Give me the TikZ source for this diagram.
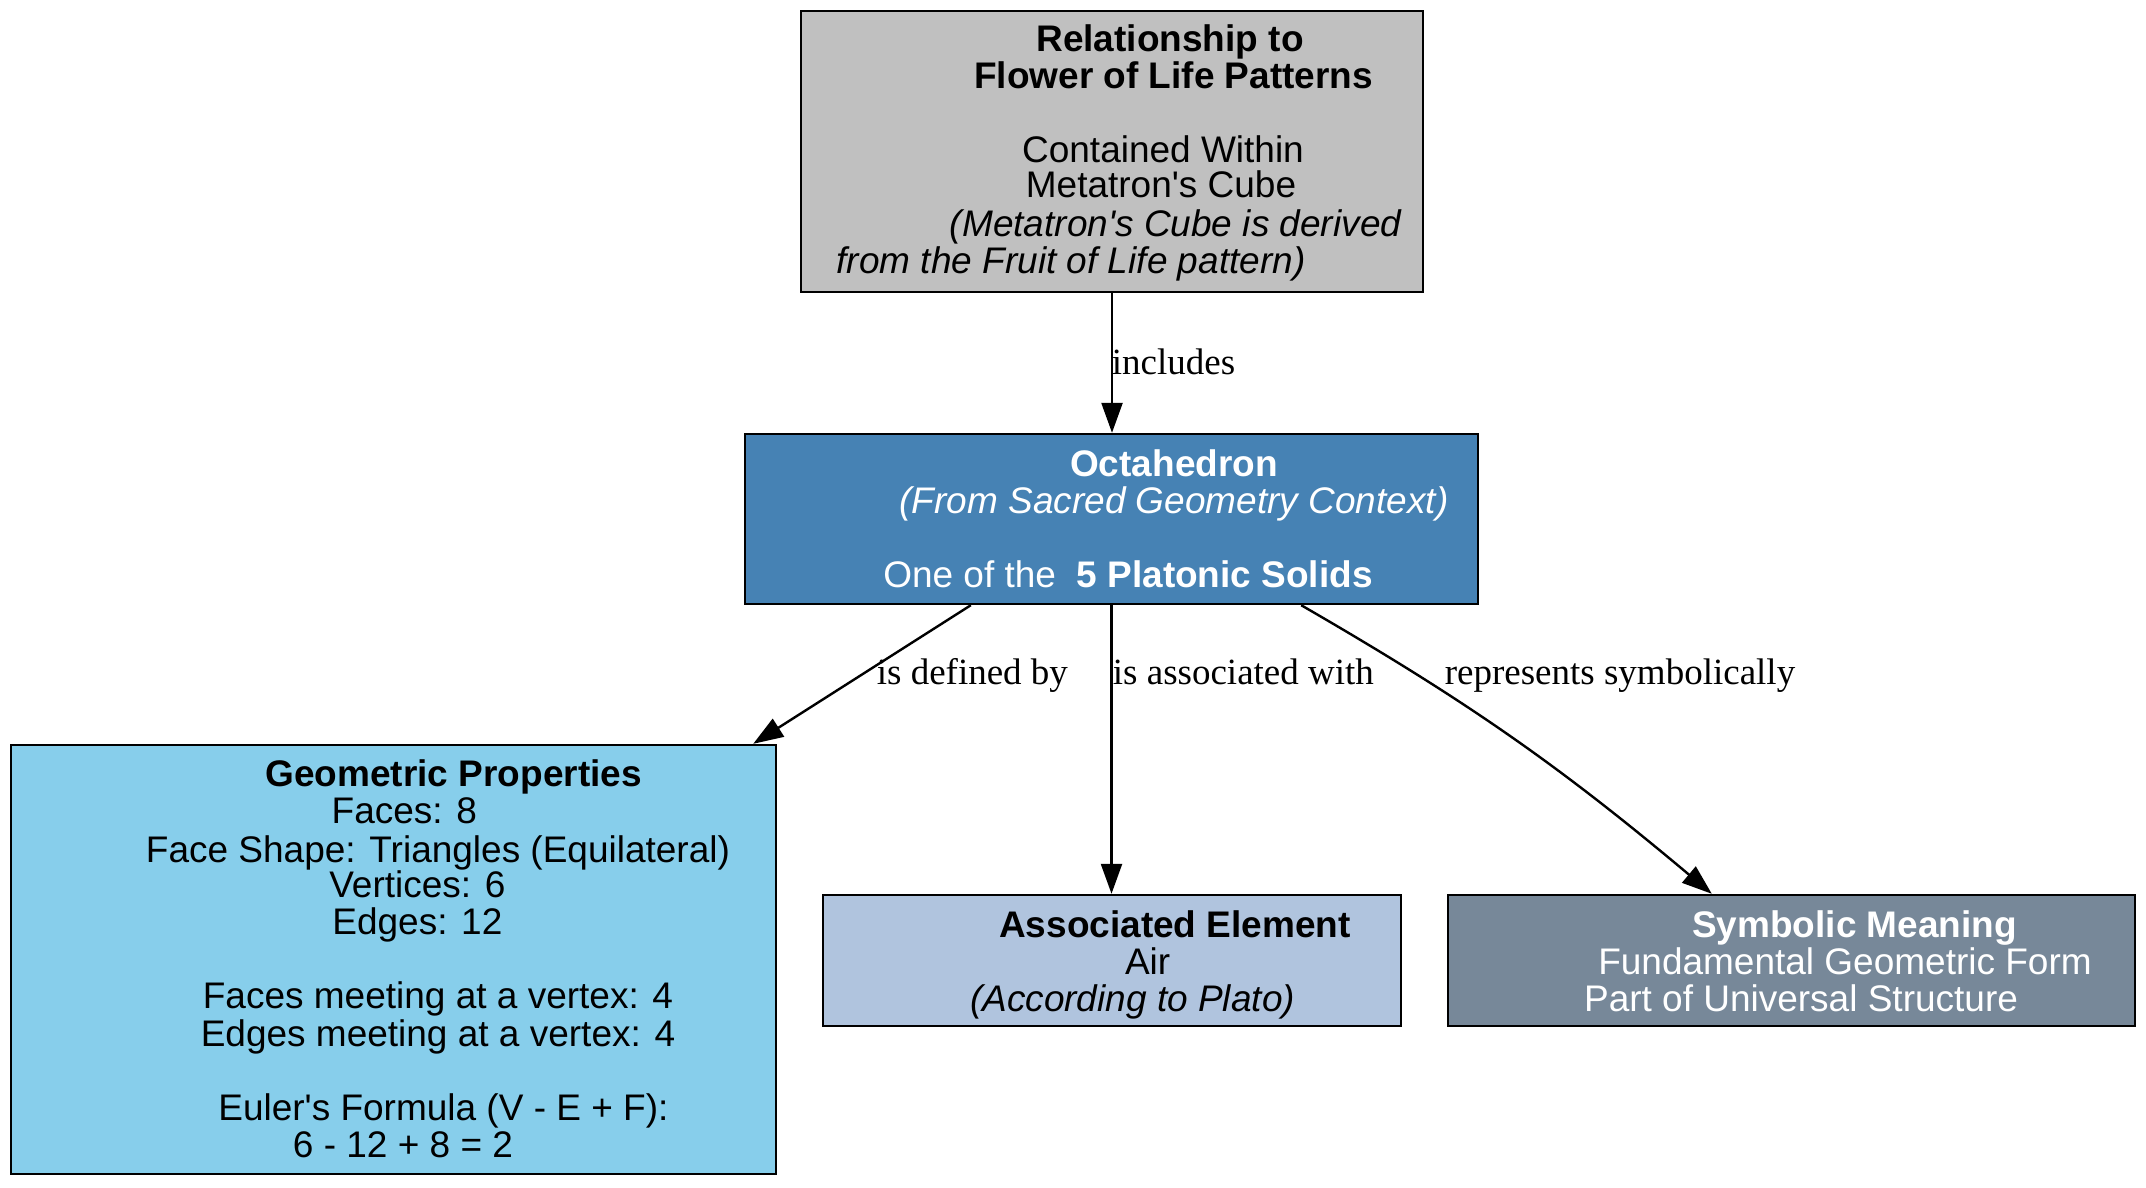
\documentclass[tikz,border=0pt]{standalone}
\usepackage{fontspec}
\setmainfont{Liberation Sans}
\newfontfamily\lblfont{Liberation Serif}
\usetikzlibrary{arrows.meta,calc}
\tikzset{
  box/.style={draw=black, line width=1.2pt, rectangle, inner sep=0pt},
  ln/.style={anchor=base, inner sep=0pt, font=\fontsize{18.5}{22}\selectfont},
  lbl/.style={anchor=base, inner sep=0pt, font=\lblfont\fontsize{18.5}{22}\selectfont},
  arr/.style={line width=1.2pt, -{Triangle[length=15pt,width=10.5pt]}},
}
\definecolor{cgray}{HTML}{C0C0C0}
\definecolor{csteel}{HTML}{4682B4}
\definecolor{csky}{HTML}{87CEEB}
\definecolor{clsteel}{HTML}{B0C4DE}
\definecolor{cslate}{HTML}{778899}
\newcommand{\aq}{\textquotesingle}
\begin{document}
\begin{tikzpicture}[x=0.5pt,y=-0.5pt]
\useasboundingbox (0,0) rectangle (2146,1188);
% boxes
\node[box, fill=cgray, minimum width=311pt, minimum height=140.5pt] (top) at (1112,151.5) {};
\node[box, fill=csteel, minimum width=366.5pt, minimum height=85pt] (oct) at (1111.5,519) {};
\node[box, fill=csky, minimum width=382.5pt, minimum height=214.5pt] (geo) at (393.5,959.5) {};
\node[box, fill=clsteel, minimum width=289pt, minimum height=65.5pt] (assoc) at (1112,960.5) {};
\node[box, fill=cslate, minimum width=343.5pt, minimum height=65.5pt] (sym) at (1791.5,960.5) {};
% top text
\node[ln] (t1) at (1170,52) {\bfseries Relationship to};
\node[ln] (t2) at (1173.6,89) {\bfseries Flower of Life Patterns};
\node[ln] (t3) at (1163,162.5) {Contained Within};
\node[ln] (t4) at (1161,198) {Metatron\aq s Cube};
\node[ln] (t5) at (1175.6,236.4) {\itshape (Metatron\aq s Cube is derived};
\node[ln] (t6) at (1071,273.4) {\itshape from the Fruit of Life pattern)};
% octahedron text
\node[ln, text=white] (o1) at (1174,476) {\bfseries Octahedron};
\node[ln, text=white] (o2) at (1174,513) {\itshape (From Sacred Geometry Context)};
\node[ln, text=white] (o3) at (1128,587) {One of the\ \ \textbf{5 Platonic Solids}};
% geometric text
\node[ln] (g1) at (453.7,786.6) {\bfseries Geometric Properties};
\node[ln] (g2) at (404.4,823.6) {Faces: 8};
\node[ln] (g3) at (438,862) {Face Shape: Triangles (Equilateral)};
\node[ln] (g4) at (417.4,897.5) {Vertices: 6};
\node[ln] (g5) at (417.4,934.4) {Edges: 12};
\node[ln] (g6) at (438,1008.3) {Faces meeting at a vertex: 4};
\node[ln] (g7) at (438,1046.7) {Edges meeting at a vertex: 4};
\node[ln] (g8) at (443.4,1120.6) {Euler\aq s Formula (V - E + F):};
\node[ln] (g9) at (403,1157.5) {6 - 12 + 8 = 2};
% associated text
\node[ln] (a1) at (1175,937) {\bfseries Associated Element};
\node[ln] (a2) at (1147.6,974) {Air};
\node[ln] (a3) at (1132.5,1011) {\itshape (According to Plato)};
% symbolic text
\node[ln, text=white] (s1) at (1854.5,937) {\bfseries Symbolic Meaning};
\node[ln, text=white] (s2) at (1845,974) {Fundamental Geometric Form};
\node[ln, text=white] (s3) at (1801,1011) {Part of Universal Structure};
% edges
\draw[arr] (top.south) -- (top.south |- oct.north);
\draw[arr] ($(oct.south west)+(227,0)$) -- ($(geo.north east)+(-24,0)$);
\draw[arr] (oct.south) -- (oct.south |- assoc.north);
\draw[arr] ($(oct.south east)+(-178,0)$) to[out=-30,in=140] ($(sym.north west)+(265,0)$);
% edge labels
\node[lbl] (e1) at (1173.6,374) {includes};
\node[lbl] (e2) at (972.4,684.7) {is defined by};
\node[lbl] (e3) at (1243.4,684.7) {is associated with};
\node[lbl] (e4) at (1620,684.7) {represents symbolically};
\end{tikzpicture}
\end{document}
